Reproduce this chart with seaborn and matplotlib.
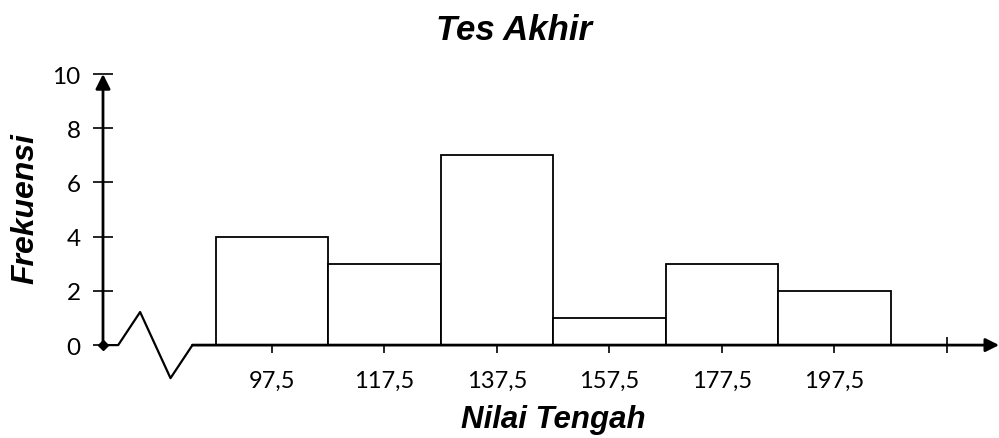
import numpy as np
import pandas as pd
import seaborn as sns
from matplotlib import pyplot as plt
from matplotlib import font_manager

# data
mids = [97.5, 117.5, 137.5, 157.5, 177.5, 197.5]
freqs = [4, 3, 7, 1, 3, 2]
edges = [87.5, 107.5, 127.5, 147.5, 167.5, 187.5, 207.5]
xticks = [97.5, 117.5, 137.5, 157.5, 177.5, 197.5, 217.5]
xlabels = ['97,5', '117,5', '137,5', '157,5', '177,5', '197,5', '']
yticks = [0, 2, 4, 6, 8, 10]
# axis break (zigzag) near the origin
brk_x = [67.5, 70.2, 74.1, 79.5, 83.4]
brk_y = [0, 0, 1.22, -1.22, 0]

df = pd.DataFrame({'Nilai Tengah': mids, 'Frekuensi': freqs})

sns.set_style('white')
names = [f.name for f in font_manager.fontManager.ttflist]
narrow = 'Liberation Sans Narrow' if 'Liberation Sans Narrow' in names else None
plt.rcParams['font.family'] = ['Lato', 'DejaVu Sans']
plt.rcParams['text.color'] = 'black'
plt.rcParams['xtick.color'] = 'black'
plt.rcParams['ytick.color'] = 'black'

fig = plt.figure(figsize=(9.99, 4.39), dpi=100)
ax = fig.add_axes([0.1031, 0.119, 0.897, 0.741])

sns.histplot(data=df, x='Nilai Tengah', weights='Frekuensi', bins=edges,
             color='white', edgecolor='black', linewidth=1.3, alpha=1, ax=ax)

ax.set_xlim(67.5, 226.8)
ax.set_ylim(-1.5, 10.5)
for s in ['top', 'right', 'left']:
    ax.spines[s].set_visible(False)
ax.spines['bottom'].set_position(('data', 0))
ax.spines['bottom'].set_color('none')

# axes with arrows
ax.annotate('', xy=(67.5, 10), xytext=(67.5, 0), annotation_clip=False,
            arrowprops=dict(arrowstyle='-|>', color='black', lw=2,
                            mutation_scale=22, shrinkA=0, shrinkB=0))
ax.annotate('', xy=(226.8, 0), xytext=(83.4, 0), annotation_clip=False,
            arrowprops=dict(arrowstyle='-|>', color='black', lw=2,
                            mutation_scale=20, shrinkA=0, shrinkB=0))
ax.plot(brk_x, brk_y, color='black', lw=1.6, clip_on=False)
ax.plot([67.5], [0], marker='D', ms=5, color='black', clip_on=False)

ax.set_xticks(xticks)
ax.set_xticklabels(xlabels)
ax.set_yticks(yticks)
ax.tick_params(axis='x', bottom=True, direction='inout', length=12, width=1.2,
               pad=12, labelsize=17, labelcolor='black')
ax.tick_params(axis='y', left=True, direction='inout', length=14, width=1.2,
               pad=9, labelsize=17.5, labelcolor='black')
ax.set_xlabel('')
ax.set_ylabel('')

fig.text(514 / 999, 1 - 30 / 439, 'Tes Akhir', ha='center', va='center', color='black',
         family='Liberation Sans', fontsize=25, fontweight='bold', style='italic')
fig.text(25 / 999, 1 - 209 / 439, 'Frekuensi', ha='center', va='center', rotation=90,
         color='black', family='Liberation Sans', fontsize=23, fontweight='bold', style='italic')
if narrow:
    fig.text(553 / 999, 1 - 420 / 439, 'Nilai Tengah', ha='center', va='center',
             color='black', family=narrow, fontsize=27, fontweight='bold', style='italic')
else:
    fig.text(553 / 999, 1 - 420 / 439, 'Nilai Tengah', ha='center', va='center',
             color='black', family='Liberation Sans', fontsize=22.5, fontweight='bold',
             style='italic')

fig.savefig('out.png', dpi=100)
